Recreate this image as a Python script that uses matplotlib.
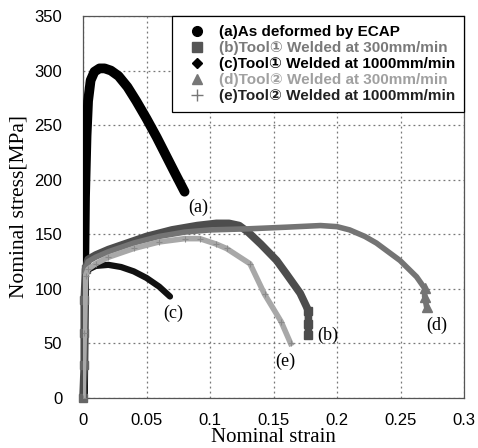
import matplotlib
matplotlib.use("Agg")
import matplotlib.pyplot as plt
from matplotlib.lines import Line2D

# ---- data ----
a_strain = [0.0, 0.001, 0.0016, 0.0028, 0.0040, 0.0060, 0.0090, 0.0130, 0.0170, 0.0220, 0.0280, 0.0350, 0.0420, 0.0500, 0.0580, 0.0650, 0.0720, 0.0800]
a_stress = [0, 120, 184, 240, 272, 291, 299, 302, 302, 300, 295, 285, 272, 256, 239, 223, 207, 189]

b_strain = [0.0, 0.001, 0.001, 0.001, 0.002, 0.004, 0.01, 0.02, 0.03, 0.05, 0.07, 0.09, 0.105, 0.115, 0.123, 0.13, 0.14, 0.1525, 0.16, 0.171, 0.1775, 0.1775, 0.1775]
b_stress = [0, 30, 60, 90, 118, 127, 131, 136, 140, 148, 154, 158, 160, 160, 158, 152, 141, 126, 114, 96, 80, 68, 58]

c_strain = [0.0, 0.001, 0.003, 0.01, 0.02, 0.03, 0.04, 0.05, 0.06, 0.0685]
c_stress = [0, 110, 117, 121, 122, 120, 116, 110, 102, 93]

d_strain = [0.0, 0.001, 0.002, 0.004, 0.01, 0.02, 0.04, 0.06, 0.08, 0.10, 0.13, 0.16, 0.187, 0.20, 0.21, 0.222, 0.231, 0.2496, 0.2627, 0.269, 0.269, 0.2705]
d_stress = [0, 60, 118, 125, 129, 134, 142, 148, 152, 154, 155, 156.5, 158, 157, 154, 148, 142, 126, 111, 100.5, 92.8, 83.7]

e_strain = [0.0, 0.001, 0.002, 0.004, 0.01, 0.02, 0.04, 0.06, 0.08, 0.092, 0.105, 0.113, 0.1315, 0.143, 0.156, 0.1635]
e_stress = [0, 60, 112, 118, 123, 129, 137, 143, 146, 146, 141, 137, 123, 95, 70, 50]

labels = ["(a)As deformed by ECAP",
          "(b)Tool\u2460 Welded at 300mm/min",
          "(c)Tool\u2460 Welded at 1000mm/min",
          "(d)Tool\u2461 Welded at 300mm/min",
          "(e)Tool\u2461 Welded at 1000mm/min"]
curve_tags = ["(a)", "(b)", "(c)", "(d)", "(e)"]
tag_pos = [(0.0908, 175), (0.193, 57.7), (0.0711, 77.6), (0.2785, 66.9), (0.159, 33.3)]

x_ticks = [0, 0.05, 0.1, 0.15, 0.2, 0.25, 0.3]
x_ticklabels = ["0", "0.05", "0.1", "0.15", "0.2", "0.25", "0.3"]
y_ticks = [0, 50, 100, 150, 200, 250, 300, 350]

# ---- figure ----
fig = plt.figure(figsize=(4.78, 4.48), dpi=100)
ax = fig.add_axes([83/478, 1-398/448, (464-83)/478, (398-16)/448])

sans = ["Liberation Sans", "DejaVu Sans", "Noto Sans CJK JP"]
serif = ["Liberation Serif", "DejaVu Serif"]

ax.plot(a_strain, a_stress, color="black", lw=7, solid_capstyle="round", solid_joinstyle="round", zorder=3)
ax.plot(b_strain, b_stress, color="#4d4d4d", lw=5.5, solid_capstyle="butt", solid_joinstyle="round", zorder=4, clip_on=False)
ax.plot(b_strain[:5], b_stress[:5], ls="none", marker="s", ms=6, color="#666666", zorder=4, clip_on=False)
ax.plot(b_strain[-3:], b_stress[-3:], ls="none", marker="s", ms=6, color="#4d4d4d", zorder=4)
ax.plot(c_strain, c_stress, color="#111111", lw=4.5, solid_capstyle="round", solid_joinstyle="round", zorder=5)
ax.plot(d_strain, d_stress, color="#747474", lw=4, solid_joinstyle="round", zorder=6)
ax.plot(d_strain[-3:], d_stress[-3:], ls="none", marker="^", ms=7, color="#747474", zorder=6)
ax.plot(e_strain, e_stress, color="#a8a8a8", lw=4, solid_joinstyle="round", zorder=7)
ax.plot(e_strain, e_stress, ls="none", marker="+", ms=5, mew=0.8, color="#8a8a8a", zorder=7)

for tag, (tx, ty) in zip(curve_tags, tag_pos):
    ax.text(tx, ty, tag, family=serif, fontsize=13, ha="center", va="center", zorder=8)

ax.set_xlim(0, 0.3)
ax.set_ylim(0, 350)
ax.set_xticks(x_ticks)
ax.set_xticklabels(x_ticklabels)
ax.set_yticks(y_ticks)
ax.tick_params(length=0, labelsize=12)
ax.tick_params(axis="x", pad=11)
ax.tick_params(axis="y", pad=15)
for lab in ax.get_xticklabels() + ax.get_yticklabels():
    lab.set_family(sans)
ax.grid(True, ls=(0, (1.5, 2.5)), color="#777777", lw=0.9)
ax.set_axisbelow(True)
for sp in ax.spines.values():
    sp.set_color("#555555")
    sp.set_linewidth(0.9)

ax.set_xlabel("Nominal strain", family=serif, fontsize=15, labelpad=0)
ax.set_ylabel("Nominal stress[MPa]", family=serif, fontsize=15.5, labelpad=4)

handles = [
    Line2D([], [], ls="none", marker="o", ms=7, color="black"),
    Line2D([], [], ls="none", marker="s", ms=7, color="#555555"),
    Line2D([], [], ls="none", marker="D", ms=5.5, color="black"),
    Line2D([], [], ls="none", marker="^", ms=6.5, color="#777777"),
    Line2D([], [], ls="none", marker="+", ms=8, mew=1, color="#777777"),
]
leg = ax.legend(handles, labels, loc="upper right", borderaxespad=0, fancybox=False,
                framealpha=1, edgecolor="black", handlelength=2.1, handletextpad=0.35,
                labelspacing=0.13, borderpad=0.6,
                prop={"family": sans, "weight": "bold", "size": 11})
leg.get_frame().set_linewidth(0.9)
text_colors = ["black", "#7a7a7a", "black", "#a0a0a0", "#222222"]
for t, c in zip(leg.get_texts(), text_colors):
    t.set_color(c)
leg.set_zorder(10)

fig.savefig("out.png", dpi=100)
